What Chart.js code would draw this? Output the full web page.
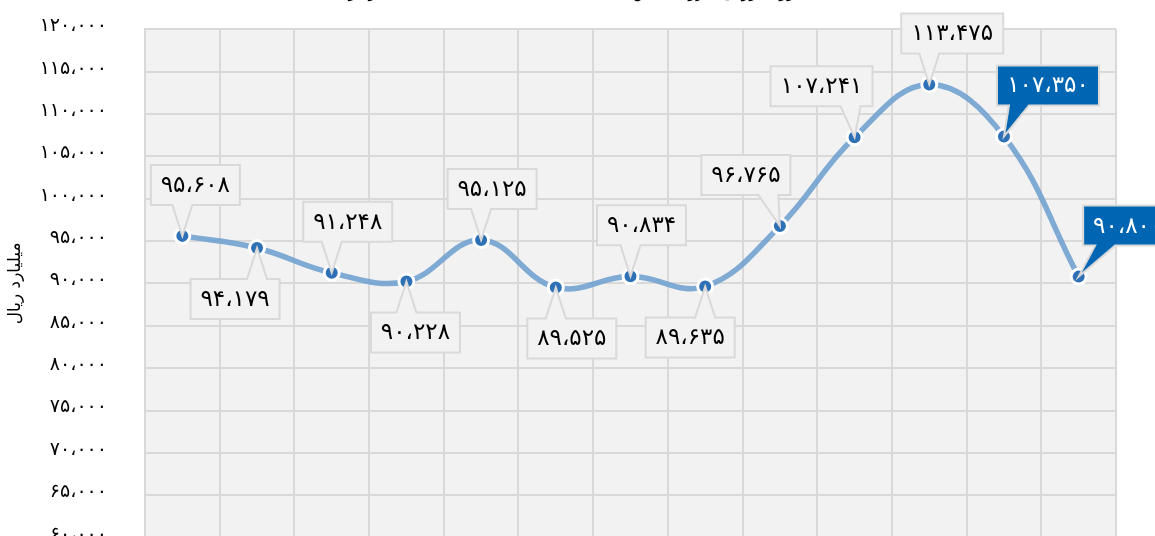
<!DOCTYPE html>
<html lang="fa">
<head>
<meta charset="utf-8">
<script src="https://cdn.jsdelivr.net/npm/chart.js@4.4.1/dist/chart.umd.min.js"></script>
<style>
html, body { margin: 0; padding: 0; background: #fff; overflow: hidden; width: 1155px; height: 536px; }
#wrap { position: absolute; left: 0; top: -33px; width: 1155px; height: 620px; }
</style>
</head>
<body>
<div id="wrap"><canvas id="chart"></canvas></div>
<script>
const years = ['۱۳۹۰', '۱۳۹۱', '۱۳۹۲', '۱۳۹۳', '۱۳۹۴', '۱۳۹۵', '۱۳۹۶', '۱۳۹۷', '۱۳۹۸', '۱۳۹۹', '۱۴۰۰', '۱۴۰۱', '۱۴۰۲'];
const values = [95608, 94179, 91248, 90228, 95125, 89525, 90834, 89635, 96765, 107241, 113475, 107350, 90800];
const yMin = 60000;
const yMax = 120000;
const yStep = 5000;
const chartTitle = 'روند ارزش افزوده بخش صنعت به قیمت ثابت سال ۱۳۹۰ (میلیارد ریال)';
const yTitle = 'میلیارد ریال';

// جای برچسب‌ها: بالا (-1) یا پایین (1) نقطه و جابجایی افقی
const labelSide = [-1, 1, -1, 1, -1, 1, -1, 1, -1, -1, -1, -1, -1];
const labelShift = [13, -22, 16, 9, 11, 16, 11, -15, -34, -33, 23, 44, 49];
const highlighted = [11, 12];

const faDigits = '۰۱۲۳۴۵۶۷۸۹';
function toFa(n) {
    return String(n).replace(/\B(?=(\d{3})+(?!\d))/g, '،').replace(/\d/g, d => faDigits[d]);
}

const FONT = '"DejaVu Sans", sans-serif';

const plotBg = {
    id: 'plotBg',
    beforeDraw(chart) {
        const { ctx, chartArea: a } = chart;
        ctx.save();
        ctx.fillStyle = '#f2f2f2';
        ctx.fillRect(a.left, a.top, a.right - a.left, a.bottom - a.top);
        ctx.restore();
    }
};

const callouts = {
    id: 'callouts',
    afterDatasetsDraw(chart) {
        const ctx = chart.ctx;
        const meta = chart.getDatasetMeta(0);
        ctx.save();
        ctx.font = '23px ' + FONT;
        meta.data.forEach((pt, i) => {
            const txt = toFa(values[i]);
            const hl = highlighted.includes(i);
            const w = Math.round(ctx.measureText(txt).width) + 20;
            const h = 40;
            const gap = 31;
            const cx = pt.x + labelShift[i];
            const left = cx - w / 2, right = cx + w / 2;
            let top, bottom;
            if (labelSide[i] < 0) { bottom = pt.y - gap; top = bottom - h; }
            else { top = pt.y + gap; bottom = top + h; }
            const bc = Math.min(Math.max(pt.x, left + 22), right - 22);
            const b0 = bc - 10, b1 = bc + 10;

            ctx.beginPath();
            if (labelSide[i] < 0) {
                ctx.moveTo(left, top);
                ctx.lineTo(right, top);
                ctx.lineTo(right, bottom);
                ctx.lineTo(b1, bottom);
                ctx.lineTo(pt.x, pt.y);
                ctx.lineTo(b0, bottom);
                ctx.lineTo(left, bottom);
            } else {
                ctx.moveTo(left, top);
                ctx.lineTo(b0, top);
                ctx.lineTo(pt.x, pt.y);
                ctx.lineTo(b1, top);
                ctx.lineTo(right, top);
                ctx.lineTo(right, bottom);
                ctx.lineTo(left, bottom);
            }
            ctx.closePath();
            ctx.fillStyle = hl ? '#0066b3' : '#f2f2f2';
            ctx.fill();
            ctx.lineWidth = 2;
            ctx.strokeStyle = '#d9d9d9';
            ctx.stroke();

            ctx.fillStyle = hl ? '#ffffff' : '#000000';
            ctx.textAlign = 'center';
            ctx.textBaseline = 'middle';
            ctx.fillText(txt, cx, (top + bottom) / 2 + 1);
        });
        ctx.restore();
    }
};

new Chart(document.getElementById('chart'), {
    type: 'line',
    data: {
        labels: years,
        datasets: [{
            data: values,
            borderColor: 'rgba(106, 157, 207, 0.85)',
            borderWidth: 5.5,
            tension: 0.4,
            pointRadius: 7.5,
            pointBackgroundColor: '#2d70b5',
            pointBorderColor: '#ffffff',
            pointBorderWidth: 3,
            fill: false
        }]
    },
    options: {
        responsive: true,
        maintainAspectRatio: false,
        animation: false,
        layout: { padding: { top: 0, left: 0, right: 39, bottom: 18 } },
        plugins: {
            legend: { display: false },
            tooltip: { enabled: false },
            title: {
                display: true,
                text: chartTitle,
                color: '#000',
                font: { family: FONT, size: 16, weight: 'normal' },
                padding: { top: 16, bottom: 27 }
            }
        },
        scales: {
            x: {
                offset: true,
                grid: { offset: true, color: '#d9d9d9', lineWidth: 2, drawTicks: false },
                border: { color: '#d9d9d9', width: 2 },
                ticks: { color: '#000', font: { family: FONT, size: 16 }, padding: 6 }
            },
            y: {
                min: yMin,
                max: yMax,
                afterFit(scale) { scale.width = 145; },
                grid: { color: '#d9d9d9', lineWidth: 2, drawTicks: false },
                border: { color: '#d9d9d9', width: 2 },
                ticks: {
                    stepSize: yStep,
                    color: '#000',
                    font: { family: FONT, size: 19 },
                    padding: 38,
                    labelOffset: -3,
                    callback: v => toFa(v)
                },
                title: {
                    display: true,
                    text: yTitle,
                    color: '#000',
                    font: { family: FONT, size: 17 },
                    padding: { top: 5, bottom: 0 }
                }
            }
        }
    },
    plugins: [plotBg, callouts]
});
</script>
</body>
</html>
